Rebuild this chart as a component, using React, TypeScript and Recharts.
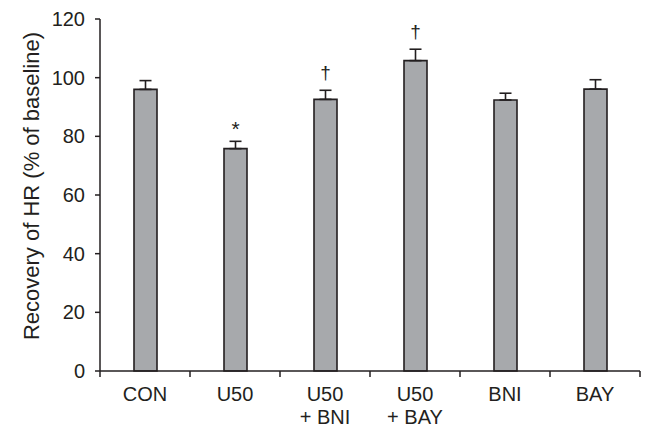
import { BarChart, Bar, XAxis, YAxis, ErrorBar, LabelList, Label } from 'recharts';

// values
const categories = ['CON', 'U50', 'U50|+ BNI', 'U50|+ BAY', 'BNI', 'BAY'];
const recovery = [96.0, 75.8, 92.6, 105.8, 92.4, 96.1];
const sem = [3.0, 2.5, 3.1, 3.9, 2.3, 3.2];
const marks = ['', '*', '†', '†', '', ''];
const yTicks = [0, 20, 40, 60, 80, 100, 120];

const data = categories.map((name, i) => ({
  name,
  value: recovery[i],
  err: [0, sem[i]],
  mark: marks[i],
}));

const W = 646;
const H = 428;
const M = { top: 19, right: 6, bottom: 0, left: 0 };
const Y_AXIS_W = 100;
const X_AXIS_H = 57;
const HALF_BAND = (W - M.left - M.right - Y_AXIS_W) / categories.length / 2;
const FONT = '"Liberation Sans", Arial, sans-serif';
const INK = '#231f20';

const XTick = (props: any) => {
  const { x, y, payload, index } = props;
  const lines = String(payload.value).split('|');
  const last = index === categories.length - 1;
  return (
    <g>
      <line x1={x - HALF_BAND} x2={x - HALF_BAND} y1={y} y2={y + 6} stroke={INK} strokeWidth={1.5} />
      {last && <line x1={x + HALF_BAND} x2={x + HALF_BAND} y1={y} y2={y + 6} stroke={INK} strokeWidth={1.5} />}
      <text x={x} y={y + 30} textAnchor="middle" fontSize={20} fontFamily={FONT} fill={INK}>
        {lines.map((l, k) => (
          <tspan key={k} x={x} dy={k === 0 ? 0 : 23}>{l}</tspan>
        ))}
      </text>
    </g>
  );
};

const MarkLabel = (props: any) => {
  const { x, y, width, height, index } = props;
  const mark = marks[index];
  if (!mark) return null;
  const pxPerUnit = height / recovery[index];
  const capY = y - sem[index] * pxPerUnit;
  const isStar = mark === '*';
  return (
    <text
      x={x + width / 2}
      y={isStar ? capY - 5 : capY - 11}
      textAnchor="middle"
      fontSize={isStar ? 21 : 19}
      fontFamily={FONT}
      fill={INK}
    >
      {mark}
    </text>
  );
};

const YTitle = (props: any) => {
  const { viewBox } = props;
  const cx = 31;
  const cy = viewBox.y + viewBox.height / 2 - 9;
  return (
    <text
      x={cx}
      y={cy}
      transform={`rotate(-90 ${cx} ${cy})`}
      textAnchor="middle"
      dominantBaseline="central"
      fontSize={22}
      fontFamily={FONT}
      fill={INK}
    >
      Recovery of HR (% of baseline)
    </text>
  );
};

export default function App() {
  return (
    <div style={{ position: 'absolute', left: 0, top: 0, width: W, height: H, background: '#fff' }}>
      <BarChart width={W} height={H} data={data} margin={M} barSize={23}>
        <XAxis
          dataKey="name"
          height={X_AXIS_H}
          tickSize={0}
          tickMargin={0}
          axisLine={{ stroke: INK, strokeWidth: 1.5 }}
          tickLine={false}
          tick={<XTick />}
          interval={0}
        />
        <YAxis
          width={Y_AXIS_W}
          domain={[0, 120]}
          ticks={yTicks}
          tickSize={5}
          tickMargin={10}
          axisLine={{ stroke: INK, strokeWidth: 1.5 }}
          tickLine={{ stroke: INK, strokeWidth: 1.5 }}
          tick={{ fontSize: 20, fontFamily: FONT, fill: INK }}
        >
          <Label content={<YTitle />} />
        </YAxis>
        <Bar dataKey="value" fill="#a7a9ac" stroke={INK} strokeWidth={1.6} isAnimationActive={false}>
          <ErrorBar dataKey="err" width={6} stroke={INK} strokeWidth={1.6} direction="y" />
          <LabelList dataKey="mark" content={<MarkLabel />} />
        </Bar>
      </BarChart>
    </div>
  );
}
